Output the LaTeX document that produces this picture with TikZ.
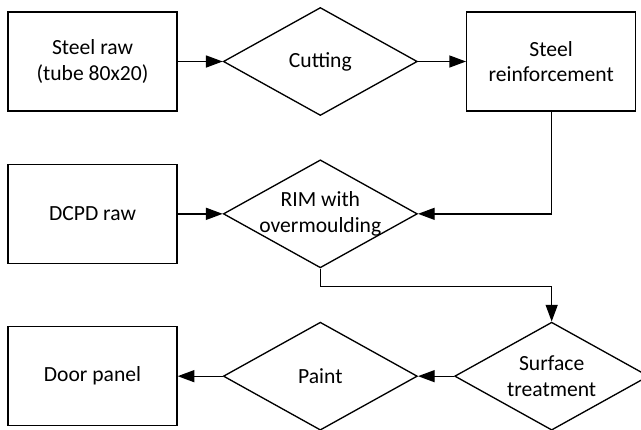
\documentclass[tikz,border=0pt]{standalone}
\usepackage{fontspec}
\setmainfont{Carlito}
\usetikzlibrary{shapes.geometric, arrows.meta, positioning}

\begin{document}
\begin{tikzpicture}[
    x=0.75pt, y=0.75pt,
    node distance=33.75pt,
    box/.style={draw, line width=1pt, minimum width=126.75pt, minimum height=74.25pt, inner sep=0pt, align=center, font=\fontsize{16.2}{19}\selectfont},
    decision/.style={draw, diamond, aspect=1.8, line width=1pt, minimum width=145.5pt, minimum height=81pt, inner sep=0pt, align=center, font=\fontsize{16.2}{19}\selectfont},
    arrow/.style={-{Triangle[length=12.5pt, width=9pt]}, line width=1pt}
]
\useasboundingbox (0,0) rectangle (641,-429);

% Row 1: steel
\node (steel) [box] at (92.5,-61.5) {Steel raw\\(tube 80x20)};
\node (cut) [decision, right=33.75pt of steel] {Cutting};
\node (reinf) [box, right=36pt of cut] {Steel\\reinforcement};

% Row 2: DCPD
\node (dcpd) [box, below=39pt of steel] {DCPD raw};
\node (rim) [decision, right=33.75pt of dcpd] {RIM with\\\makebox[0pt]{overmoulding}};

% Row 3: finishing
\node (door) [box, below=46.5pt of dcpd] {Door panel};
\node (paint) [decision, right=33.75pt of door] {Paint};
\node (surf) [decision, right=27pt of paint] {Surface\\treatment};

% Connectors
\draw [arrow] (steel) -- (cut);
\draw [arrow] (cut) -- (reinf);
\draw [arrow] (dcpd) -- (rim);
\draw [arrow] (reinf.south) |- (rim.east);
\draw [arrow] (rim.south) -- ++(0,-18) -| (surf.north);
\draw [arrow] (surf) -- (paint);
\draw [arrow] (paint) -- (door);

\end{tikzpicture}
\end{document}
